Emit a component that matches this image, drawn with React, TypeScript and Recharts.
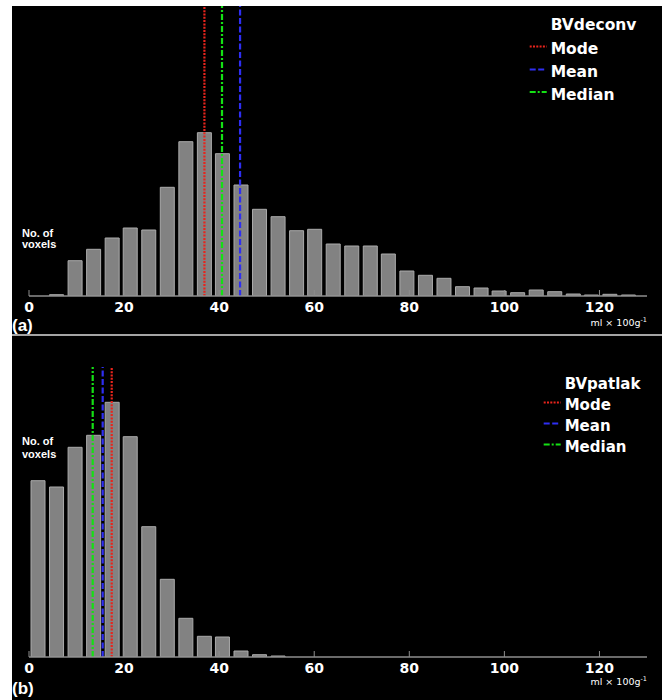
import React from 'react';
import { ComposedChart, Bar, XAxis, YAxis, ReferenceLine } from 'recharts';

// Histogram bin centres (ml x 100g^-1)
const binCenters = [
  1.9, 5.8, 9.7, 13.6, 17.5, 21.3, 25.2, 29.1, 33.0, 36.9, 40.7, 44.6, 48.5,
  52.4, 56.3, 60.1, 64.0, 67.9, 71.8, 75.6, 79.5, 83.4, 87.3, 91.2, 95.1,
  98.9, 102.8, 106.7, 110.6, 114.5, 118.3, 122.2, 126.1,
];

// Panel (a): BVdeconv voxel counts per bin
const deconvCounts = [
  0, 13, 353, 467, 580, 680, 660, 1087, 1543, 1633, 1423, 1110, 867, 793, 653,
  667, 520, 500, 500, 420, 250, 207, 177, 93, 80, 50, 33, 60, 43, 20, 10, 17, 10,
];

// Panel (b): BVpatlak voxel counts per bin
const patlakCounts = [
  1763, 1700, 2097, 2217, 2547, 2203, 1303, 777, 387, 207, 200, 60, 23, 10,
];

const xTicks = [0, 20, 40, 60, 80, 100, 120];

const deconvStats = [
  { name: 'Mode', value: 36.9 },
  { name: 'Mean', value: 44.4 },
  { name: 'Median', value: 40.6 },
];
const patlakStats = [
  { name: 'Mode', value: 17.4 },
  { name: 'Mean', value: 15.5 },
  { name: 'Median', value: 13.4 },
];

const STAT_STYLE: Record<string, { stroke: string; dash: string }> = {
  Mode: { stroke: '#e8241c', dash: '2 1.3' },
  Mean: { stroke: '#2e2ef2', dash: '6 2.5' },
  Median: { stroke: '#14e014', dash: '6 2 2 2' },
};

const AXIS_GRAY = '#8e8e8e';
const W = 650;

type PanelProps = {
  top: number;
  height: number;
  marginTop: number;
  marginBottom: number;
  tickMargin: number;
  counts: number[];
  stats: { name: string; value: number }[];
  title: string;
  titleSize: number;
  legendX: number;
  legendBaselines: number[];
  noteBaselines: number[];
  panelLabel: string;
  labelBaseline: number;
  unitBaseline: number;
};

function Panel(p: PanelProps) {
  const data = p.counts.map((c, i) => ({ x: binCenters[i], count: c }));
  return (
    <div style={{ position: 'absolute', left: 0, top: p.top, width: W, height: p.height }}>
      <ComposedChart
        width={W}
        height={p.height}
        data={data}
        margin={{ top: p.marginTop, right: 15, bottom: p.marginBottom, left: 17 }}
      >
        <XAxis
          dataKey="x"
          type="number"
          domain={[0, 130]}
          ticks={xTicks}
          allowDataOverflow
          height={30}
          axisLine={{ stroke: AXIS_GRAY, strokeWidth: 1.5 }}
          tickLine={{ stroke: AXIS_GRAY, strokeWidth: 1 }}
          tickSize={-6}
          tickMargin={p.tickMargin}
          tick={{ fill: '#ffffff', fontSize: 14, fontWeight: 'bold', fontFamily: 'DejaVu Sans' }}
        />
        <YAxis hide domain={[0, 2900]} allowDataOverflow />
        <Bar
          dataKey="count"
          barSize={14}
          fill="#828282"
          stroke="#ababab"
          strokeWidth={1}
          isAnimationActive={false}
        />
        {p.stats.map((s) => (
          <ReferenceLine
            key={s.name}
            x={s.value}
            stroke={STAT_STYLE[s.name].stroke}
            strokeDasharray={STAT_STYLE[s.name].dash}
            strokeWidth={2.2}
          />
        ))}
      </ComposedChart>
      <svg
        width={W}
        height={p.height}
        style={{ position: 'absolute', left: 0, top: 0, pointerEvents: 'none' }}
      >
        <text
          x={p.legendX}
          y={p.legendBaselines[0]}
          fill="#ffffff"
          fontFamily="DejaVu Sans"
          fontWeight="bold"
          fontSize={p.titleSize}
        >
          {p.title}
        </text>
        {p.stats.map((s, i) => (
          <g key={s.name}>
            <line
              x1={p.legendX - 21}
              x2={p.legendX - 4}
              y1={p.legendBaselines[i + 1] - 7.5}
              y2={p.legendBaselines[i + 1] - 7.5}
              stroke={STAT_STYLE[s.name].stroke}
              strokeDasharray={STAT_STYLE[s.name].dash}
              strokeWidth={2}
            />
            <text
              x={p.legendX}
              y={p.legendBaselines[i + 1]}
              fill="#ffffff"
              fontFamily="DejaVu Sans"
              fontWeight="bold"
              fontSize={p.titleSize}
            >
              {s.name}
            </text>
          </g>
        ))}
        <text x={10} y={p.noteBaselines[0]} fill="#ffffff" fontFamily="Liberation Sans" fontWeight="bold" fontSize={11}>
          No. of
        </text>
        <text x={10} y={p.noteBaselines[1]} fill="#ffffff" fontFamily="Liberation Sans" fontWeight="bold" fontSize={11}>
          voxels
        </text>
        <text x={0} y={p.labelBaseline} fill="#ffffff" fontFamily="Liberation Sans" fontWeight="bold" fontSize={17}>
          {p.panelLabel}
        </text>
        <text
          x={635}
          y={p.unitBaseline}
          textAnchor="end"
          fill="#ffffff"
          fontFamily="DejaVu Sans"
          fontSize={9.5}
        >
          ml × 100g
          <tspan fontSize={6.5} dy={-4}>-1</tspan>
        </text>
      </svg>
    </div>
  );
}

export default function App() {
  return (
    <div
      style={{
        position: 'absolute',
        left: 12,
        top: 6,
        width: W,
        height: 694,
        background: '#000000',
        overflow: 'hidden',
      }}
    >
      <Panel
        top={0}
        height={328}
        marginTop={0}
        marginBottom={8}
        tickMargin={12}
        counts={deconvCounts}
        stats={deconvStats}
        title="BVdeconv"
        titleSize={15.5}
        legendX={538.7}
        legendBaselines={[24, 48, 71, 93.5]}
        noteBaselines={[230.5, 242]}
        panelLabel="(a)"
        labelBaseline={325}
        unitBaseline={320}
      />
      <div
        style={{ position: 'absolute', left: 0, top: 328, width: W, height: 1.5, background: '#a4a4a4' }}
      />
      <Panel
        top={330}
        height={364}
        marginTop={31}
        marginBottom={13}
        tickMargin={12}
        counts={patlakCounts}
        stats={patlakStats}
        title="BVpatlak"
        titleSize={15}
        legendX={552.7}
        legendBaselines={[53, 74, 95, 116]}
        noteBaselines={[109, 121.5]}
        panelLabel="(b)"
        labelBaseline={358}
        unitBaseline={349}
      />
    </div>
  );
}
